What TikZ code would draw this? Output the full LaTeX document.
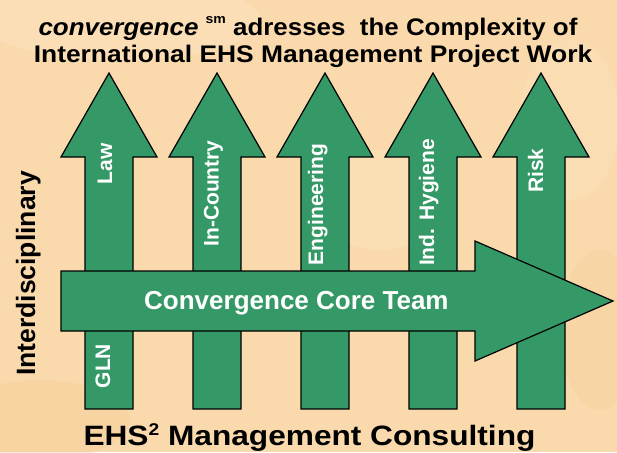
\documentclass[tikz,border=0pt]{standalone}
\usepackage{fontspec}
\setmainfont{Liberation Sans}
\definecolor{bgpeach}{RGB}{250,218,172}
\definecolor{bglight}{RGB}{253,232,200}
\definecolor{bgdark}{RGB}{245,200,145}
\definecolor{arrowgreen}{RGB}{52,153,102}
\tikzset{
  greenarrow/.style={fill=arrowgreen, draw=black, line width=1.2pt, line join=miter},
  vlabel/.style={rotate=90, anchor=base, text=white, inner sep=0pt,
    font=\fontsize{21}{21}\selectfont\bfseries},
  titletext/.style={anchor=base, inner sep=0pt, text=black,
    font=\fontsize{24}{24}\selectfont\bfseries},
}
\begin{document}
\begin{tikzpicture}[x=1pt,y=-1pt]
\fill[bgpeach] (0,0) rectangle (617,452);
\useasboundingbox (0,0) rectangle (617,452);
% soft background mottling
\fill[bglight, opacity=0.35] (120,20) ellipse (140 and 40);
\fill[bglight, opacity=0.25] (570,120) ellipse (50 and 80);
\fill[bgdark, opacity=0.3] (40,420) ellipse (90 and 40);
\fill[bgdark, opacity=0.25] (600,330) ellipse (40 and 80);
\fill[bglight, opacity=0.3] (380,200) ellipse (60 and 50);
% vertical arrows
\foreach \cx in {109,217,325,433,541} {
  \draw[greenarrow] (\cx,73) -- (\cx+48,157) -- (\cx+24,157) -- (\cx+24,409)
    -- (\cx-24,409) -- (\cx-24,157) -- (\cx-48,157) -- cycle;
}
% horizontal arrow
\draw[greenarrow] (61,271) -- (475,271) -- (475,241) -- (613,301) -- (475,361)
  -- (475,331) -- (61,331) -- cycle;
% labels on vertical arrows
\node[vlabel] (law) at (112,164) {Law};
\node[vlabel] (incountry) at (218.5,193.5) {In-Country};
\node[vlabel] (engineering) at (323,204.5) {Engineering};
\node[vlabel] (hygiene) at (434,202.5) {Ind. Hygiene};
\node[vlabel] (risk) at (543,170.5) {Risk};
\node[vlabel] (gln) at (110,366) {GLN};
% core team
\node[anchor=base, inner sep=0pt, text=white, font=\fontsize{26}{26}\selectfont\bfseries]
  (core) at (296.4,309.3) {Convergence Core Team};
% side label
\node[rotate=90, anchor=base, inner sep=0pt, text=black,
  font=\fontsize{26.5}{26.5}\selectfont\bfseries] (interdisc) at (35,273.5) {Interdisciplinary};
% titles
\node[titletext] (title1) at (308,35) {\scalebox{1.08}[1]{\textit{convergence} \raisebox{11pt}{\fontsize{13}{13}\selectfont sm} adresses\ \ the Complexity of}};
\node[titletext] (title2) at (313,62) {\scalebox{1.1}[1]{International EHS Management Project Work}};
\node[anchor=base, inner sep=0pt, text=black, font=\fontsize{28}{28}\selectfont\bfseries]
  (footer) at (309.5,445.5) {\scalebox{1.13}[1]{EHS\raisebox{10pt}{\fontsize{17}{17}\selectfont 2} Management Consulting}};
\end{tikzpicture}
\end{document}
